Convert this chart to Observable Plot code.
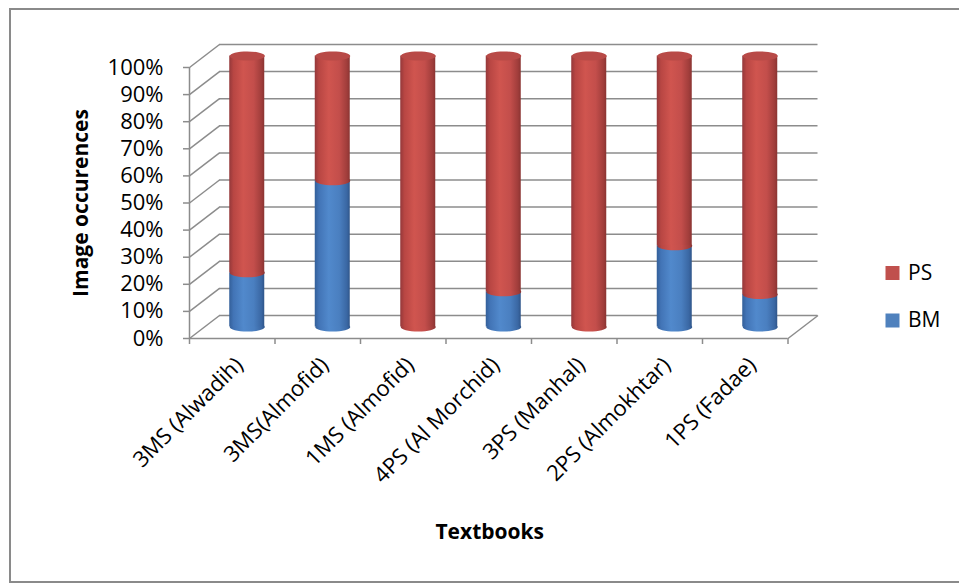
<!DOCTYPE html>
<html>
<head>
<meta charset="utf-8">
<script src="https://cdn.jsdelivr.net/npm/d3@7"></script>
<script src="https://cdn.jsdelivr.net/npm/@observablehq/plot@0.6"></script>
<style>
  html, body { margin: 0; padding: 0; background: #fff; }
  #wrap { position: relative; width: 959px; height: 584px; overflow: hidden; }
  #border { position: absolute; left: 9px; top: 8px; width: 970px; height: 575px;
            border: 2px solid #8a8a8a; box-sizing: border-box; pointer-events: none; }
</style>
</head>
<body>
<div id="wrap"><div id="chart"></div><div id="border"></div></div>
<script>
// Share of image occurrences per textbook (percent)
const textbooks = ["3MS (Alwadih)", "3MS(Almofid)", "1MS (Almofid)", "4PS (Al Morchid)", "3PS (Manhal)", "2PS (Almokhtar)", "1PS (Fadae)"];
const bmShare = [20, 54, 0, 13, 0, 30, 12];
const psShare = [80, 46, 100, 87, 100, 70, 88];
const percentTicks = [0, 10, 20, 30, 40, 50, 60, 70, 80, 90, 100];
const seriesNames = ["PS", "BM"];
const seriesColors = {PS: "#c0504d", BM: "#4f81bd"};

// Layout: scales describe the mid-depth plane where the cylinders stand;
// the back wall and the front axis are shifted by the depth offset.
const W = 959, H = 584;
const M = {left: 204, right: 156.5, top: 55.5, bottom: 257.5};
const DX = 15, DY = 11.5;                 // half depth of the 3-D box, px
const n = textbooks.length;
const ux = n / (W - M.left - M.right);   // data units per px (x)
const uy = 100 / (H - M.top - M.bottom); // data units per px (y)
const GRID = "#8c8c8c";
const BAR_INSET = 25.25;                 // px trimmed off each side of a band
const BAR_R = (W - M.left - M.right) / n / 2 - BAR_INSET;

// Stacked segments, bottom (BM) then top (PS)
const bm = textbooks.map((t, i) => ({i, y1: 0, y2: bmShare[i]})).filter(d => d.y2 > d.y1);
const ps = textbooks.map((t, i) => ({i, y1: bmShare[i], y2: bmShare[i] + psShare[i]}));

// Flattened ellipse used for cylinder ends
const ellipse = {
  draw(ctx, size) {
    const rx = Math.sqrt(size / Math.PI), ry = rx * 0.26, k = 0.5523;
    ctx.moveTo(-rx, 0);
    ctx.bezierCurveTo(-rx, -ry * k, -rx * k, -ry, 0, -ry);
    ctx.bezierCurveTo(rx * k, -ry, rx, -ry * k, rx, 0);
    ctx.bezierCurveTo(rx, ry * k, rx * k, ry, 0, ry);
    ctx.bezierCurveTo(-rx * k, ry, -rx, ry * k, -rx, 0);
    ctx.closePath();
  }
};

const cx = d => d.i + 0.5;

const chart = Plot.plot({
  width: W,
  height: H,
  marginLeft: M.left,
  marginRight: M.right,
  marginTop: M.top,
  marginBottom: M.bottom,
  x: {type: "linear", domain: [0, n], axis: null},
  y: {domain: [0, 100], axis: null},
  style: {fontFamily: "'Open Sans', sans-serif", fontSize: "21px", color: "#000", background: "#fff", overflow: "visible"},
  marks: [
    // back wall gridlines
    Plot.ruleY(percentTicks, {y: d => d, dx: DX, dy: -DY, stroke: GRID, strokeWidth: 1.5}),
    // side wall diagonals
    Plot.link(percentTicks, {x1: -DX * ux, y1: d => d - DY * uy, x2: DX * ux, y2: d => d + DY * uy, stroke: GRID, strokeWidth: 1.5}),
    // right floor edge
    Plot.link([0], {x1: n - DX * ux, y1: -DY * uy, x2: n + DX * ux, y2: DY * uy, stroke: GRID, strokeWidth: 1.5}),
    // front floor edge and value axis
    Plot.ruleY([0], {x1: 0, x2: n, dx: -DX, dy: DY, stroke: GRID, strokeWidth: 1.5}),
    Plot.ruleX([0], {y1: 0, y2: 100, dx: -DX, dy: DY, stroke: GRID, strokeWidth: 1.5}),
    Plot.ruleY(percentTicks, {y: d => d, x1: 0, x2: -6 * ux, dx: -DX, dy: DY, stroke: GRID, strokeWidth: 1.5}),
    Plot.ruleX(d3.range(n + 1), {x: d => d, y1: 0, y2: -6 * uy, dx: -DX, dy: DY, stroke: GRID, strokeWidth: 1.5}),
    // tick labels
    Plot.text(percentTicks, {x: 0, y: d => d, text: d => d + "%", textAnchor: "end", dx: -DX - 26, dy: DY, fontSize: 22}),
    Plot.text(textbooks, {x: (d, i) => i + 0.5, y: 0, text: d => d, rotate: -45, textAnchor: "end", dx: -DX + 7, dy: DY + 23, fontSize: 22}),
    // BM cylinders
    Plot.dot(bm, {x: cx, y: "y1", r: BAR_R, symbol: ellipse, fill: "url(#shadeBM)"}),
    Plot.rect(bm, {x1: d => d.i, x2: d => d.i + 1, y1: "y1", y2: "y2", insetLeft: BAR_INSET, insetRight: BAR_INSET, fill: "url(#shadeBM)"}),
    // PS cylinders
    Plot.dot(ps, {x: cx, y: "y1", r: BAR_R, symbol: ellipse, fill: "url(#shadePS)"}),
    Plot.rect(ps, {x1: d => d.i, x2: d => d.i + 1, y1: "y1", y2: "y2", insetLeft: BAR_INSET, insetRight: BAR_INSET, fill: "url(#shadePS)"}),
    Plot.dot(ps, {x: cx, y: "y2", r: BAR_R, symbol: ellipse, fill: "#b84a47"}),
    // axis titles
    Plot.text(["Image occurences"], {frameAnchor: "left", dx: -123, dy: 11.5, rotate: -90, text: d => d, textAnchor: "middle", lineAnchor: "middle", fontWeight: "bold", fontSize: 21}),
    Plot.text(["Textbooks"], {frameAnchor: "bottom", dx: -14, dy: 205.5, text: d => d, textAnchor: "middle", lineAnchor: "middle", fontWeight: "bold", fontSize: 21}),
    // legend
    ...seriesNames.flatMap((name, k) => [
      Plot.dot([name], {frameAnchor: "top-right", dx: 89.5, dy: 217 + k * 47.5, symbol: "square", r: 7.9, fill: seriesColors[name]}),
      Plot.text([name], {frameAnchor: "top-right", dx: 105, dy: 217 + k * 47.5, text: d => d, textAnchor: "start", lineAnchor: "middle", fontSize: 21})
    ])
  ]
});

// Horizontal shading that gives the bars their cylindrical look
const defs = d3.select(chart).insert("defs", ":first-child");
function addShade(id, stops) {
  const g = defs.append("linearGradient").attr("id", id)
    .attr("x1", 0).attr("x2", 1).attr("y1", 0).attr("y2", 0);
  for (const [o, c] of stops) g.append("stop").attr("offset", o).attr("stop-color", c);
}
addShade("shadePS", [[0, "#94383a"], [0.12, "#b84643"], [0.4, "#d0554f"], [0.7, "#c34e4b"], [0.92, "#a03d3b"], [1, "#8a3432"]]);
addShade("shadeBM", [[0, "#335f99"], [0.12, "#4274b6"], [0.4, "#5189cc"], [0.7, "#4a7fc0"], [0.92, "#3a67a3"], [1, "#2f5589"]]);

document.getElementById("chart").appendChild(chart);
</script>
</body>
</html>
